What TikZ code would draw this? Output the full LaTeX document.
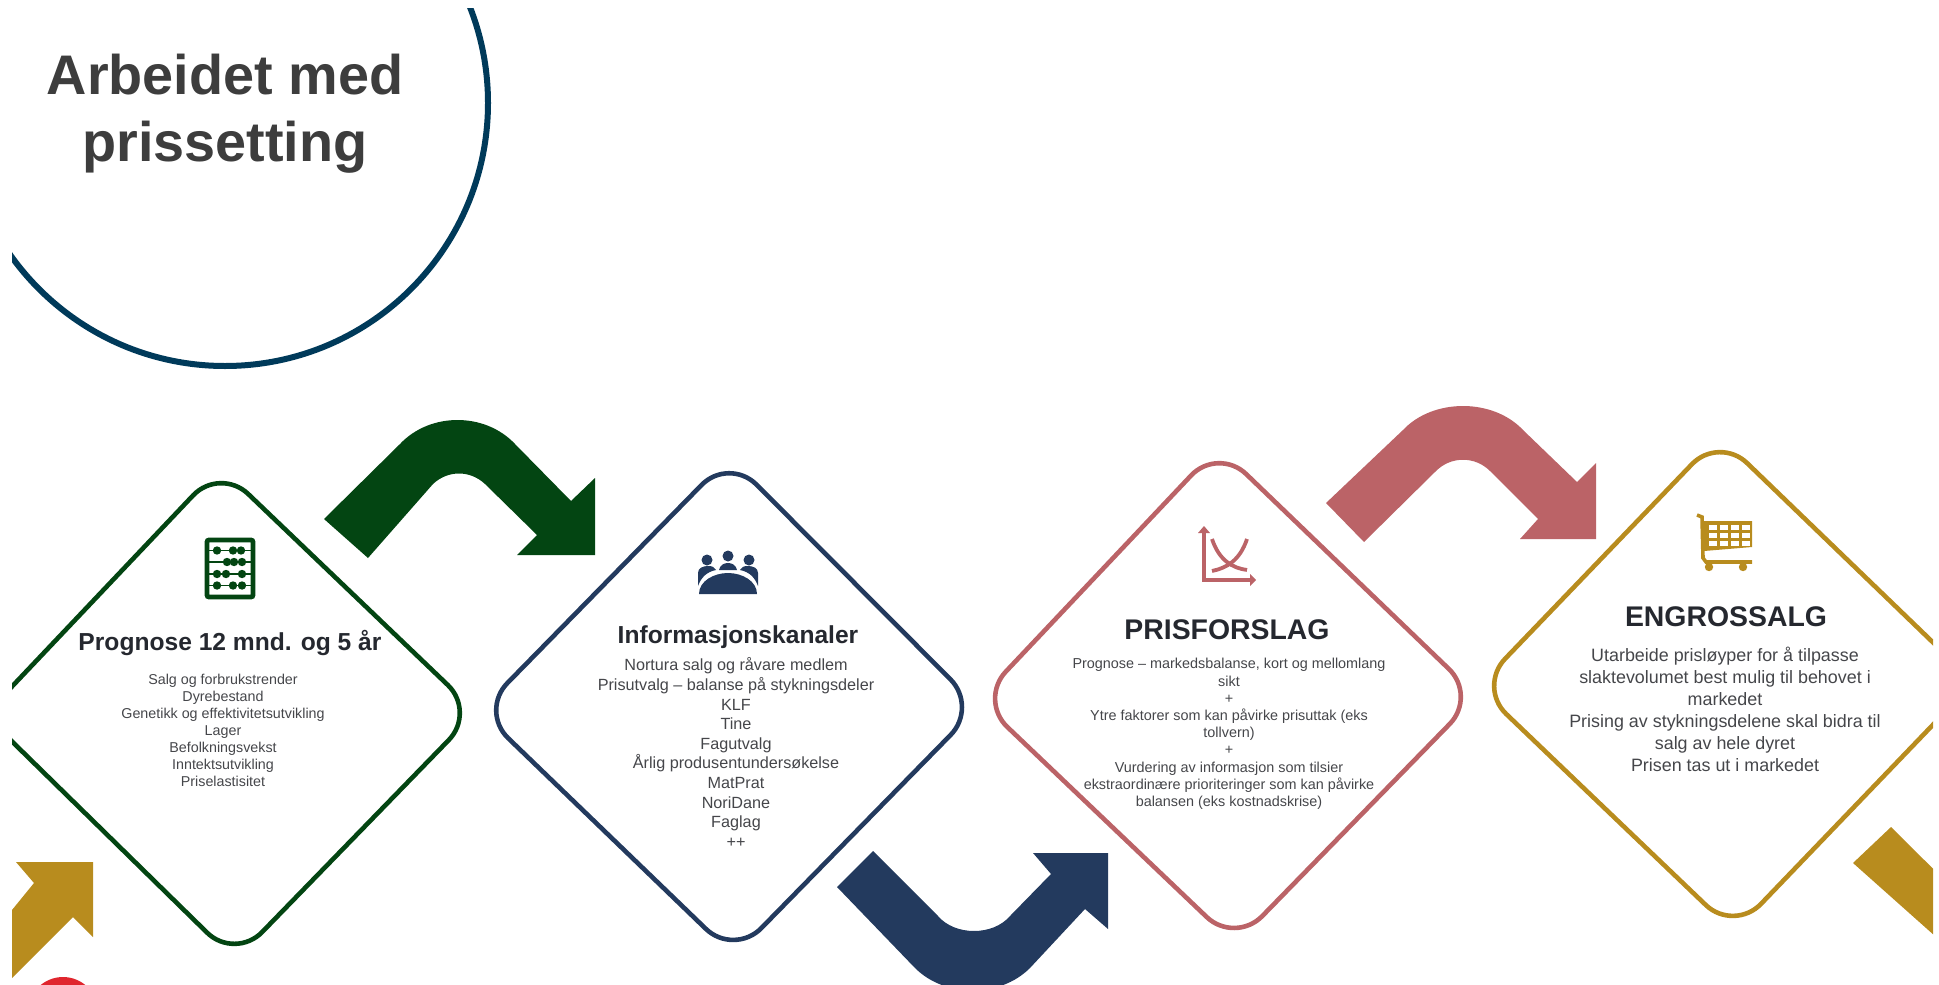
\documentclass[tikz,border=0pt]{standalone}
\usepackage{fontspec}
\setmainfont{Liberation Sans}
\definecolor{ringblue}{HTML}{003A5A}
\definecolor{pgreen}{HTML}{034512}
\definecolor{pnavy}{HTML}{233A5E}
\definecolor{pred}{HTML}{BB6367}
\definecolor{pgold}{HTML}{B88C1E}
\definecolor{plogo}{HTML}{E0262E}
\definecolor{headtxt}{HTML}{25282F}
\definecolor{bodytxt}{HTML}{45464A}
\tikzset{
  rhomb/.style={line width=2.3pt, rounded corners=19.5pt},
  headlabel/.style={text=headtxt, font=\bfseries\fontsize{#1}{#1}\selectfont, inner sep=0pt},
  bodylabel/.style={text=bodytxt, align=center, inner sep=0pt}
}
\begin{document}
\begin{tikzpicture}[x=0.5pt, y=-0.5pt]
\useasboundingbox (0,0) rectangle (1939,985);

\begin{scope}
\clip (12,8) rectangle (1933,985);

% corners of the four boxes
\coordinate (AT) at (220,467);
\coordinate (AR) at (476,712);
\coordinate (AB) at (235,960);
\coordinate (AL) at (-15,715);
\coordinate (BT) at (729,457);
\coordinate (BR) at (978,707);
\coordinate (BB) at (734,956);
\coordinate (BL) at (480,711);
\coordinate (CT) at (1218,447);
\coordinate (CR) at (1477,696);
\coordinate (CB) at (1235,944);
\coordinate (CL) at (979,700);
\coordinate (DT) at (1719,436);
\coordinate (DR) at (1974,682);
\coordinate (DB) at (1734,932);
\coordinate (DL) at (1478,687);

% title ring
\draw[line width=3pt, ringblue] (225,103) circle[radius=263];
\node[text=black!76, font=\bfseries\fontsize{27.9}{33.5}\selectfont, align=center, inner sep=0pt] (title) at (225,114) {Arbeidet med\\prissetting};

% logo at the bottom
\fill[plogo] (63,1012) circle[radius=35];

% bent arrows
\fill[pgreen] (324,519) -- (400,444) .. controls (430,412) and (485,412) .. (515,444) -- (571,501)
  -- (595,478) -- (595,555) -- (517,555) -- (537,535) -- (485,484)
  .. controls (470,470) and (448,470) .. (433,484) -- (368,558) -- cycle;
\fill[pnavy] (873,851) -- (938,916) .. controls (955,936) and (993,936) .. (1010,916) -- (1051,874)
  -- (1033,853) -- (1108,853) -- (1108,929) -- (1085,909) -- (1030,968)
  .. controls (1000,998) and (945,998) .. (915,968) -- (837,887) -- cycle;
\fill[pred] (1326,503) -- (1403,430) .. controls (1433,398) and (1493,398) .. (1523,430) -- (1577,482)
  -- (1596,463) -- (1596,539) -- (1520,539) -- (1538,519) -- (1490,471)
  .. controls (1475,456) and (1451,456) .. (1436,471) -- (1364,542) -- cycle;
\fill[pgold] (16,862) -- (93,862) -- (93,937) -- (73,917) -- (-20,1010) -- (-45,980) -- (34,883) -- cycle;
\fill[pgold] (1891,827) -- (1853,863) -- (1990,985) -- (2030,965) -- cycle;

% boxes
\draw[rhomb, pgreen] (AT) -- (AR) -- (AB) -- (AL) -- cycle;
\draw[rhomb, pnavy] (BT) -- (BR) -- (BB) -- (BL) -- cycle;
\draw[rhomb, pred] (CT) -- (CR) -- (CB) -- (CL) -- cycle;
\draw[rhomb, pgold] (DT) -- (DR) -- (DB) -- (DL) -- cycle;

% abacus
\draw[pgreen, line width=2.4pt, rounded corners=1pt] (207,540) rectangle (253,597);
\foreach \rody/\beadA/\beadB/\beadC in {550.5/217/233/241, 562/227/234/242, 574/217/226/242, 585.5/217/233/242} {
  \draw[pgreen, line width=0.9pt] (207,\rody) -- (253,\rody);
  \foreach \beadx in {\beadA,\beadB,\beadC}
    \fill[pgreen] (\beadx,\rody) circle[radius=4.2];
}

% meeting table
\foreach \headx/\heady in {707/560, 728/556, 749/560}
  \fill[pnavy] (\headx,\heady) circle[radius=5.5];
\fill[pnavy] (699,594) .. controls (699,581) and (714,573) .. (728,573) .. controls (742,573) and (757,581) .. (757,594) -- cycle;
\fill[pnavy] (719,570) .. controls (720,565) and (724,563) .. (728,563) .. controls (732,563) and (736,565) .. (737,570) -- cycle;
\fill[pnavy] (698,586) -- (698,573) .. controls (698,568) and (703,566) .. (708,566) .. controls (712,566) and (715,567) .. (716,570) .. controls (706,572) and (701,578) .. (698,586) -- cycle;
\fill[pnavy] (758,586) -- (758,573) .. controls (758,568) and (753,566) .. (748,566) .. controls (744,566) and (741,567) .. (740,570) .. controls (750,572) and (755,578) .. (758,586) -- cycle;

% chart
\draw[pred, line width=1.8pt] (1204,533) -- (1204,580) -- (1251,580);
\fill[pred] (1198,533) -- (1204,526) -- (1210,533) -- cycle;
\fill[pred] (1250,574) -- (1256,580) -- (1250,586) -- cycle;
\draw[pred, line width=1.9pt] (1212,539) .. controls (1219,560) and (1232,568) .. (1247,570);
\draw[pred, line width=1.9pt] (1247,539) .. controls (1240,560) and (1227,568) .. (1212,571);

% cart
\draw[pgold, line width=1.8pt] (1697,515) -- (1702,517) -- (1703,558) -- (1706,562) -- (1752,562);
\fill[pgold] (1704,521) -- (1752,521) -- (1752,547) -- (1704,551) -- cycle;
\foreach \cellx in {1709,1720,1731,1742}
  \foreach \celly in {525,533,541}
    \fill[white] (\cellx,\celly) rectangle ++(7.5,5);
\fill[pgold] (1709,567) circle[radius=4.2];
\fill[pgold] (1743,567) circle[radius=4.2];

% texts
\node[headlabel=12.3] (prognosehead) at (230,643) {Prognose 12 mnd. og 5 år};
\node[bodylabel, font=\fontsize{7.15}{8.5}\selectfont] (prognosebody) at (223,730) {Salg og forbrukstrender\\Dyrebestand\\Genetikk og effektivitetsutvikling\\Lager\\Befolkningsvekst\\Inntektsutvikling\\Priselastisitet};

\node[headlabel=12.3] (infohead) at (738,637) {Informasjonskanaler};
\node[bodylabel, font=\fontsize{8.1}{9.8}\selectfont] (infobody) at (736,752.5) {Nortura salg og råvare medlem\\Prisutvalg -- balanse på stykningsdeler\\KLF\\Tine\\Fagutvalg\\Årlig produsentundersøkelse\\MatPrat\\NoriDane\\Faglag\\++};

\node[headlabel=14.2] (forslaghead) at (1227,630) {PRISFORSLAG};
\node[bodylabel, font=\fontsize{7.2}{8.6}\selectfont] (forslagbody) at (1229,734) {Prognose -- markedsbalanse, kort og mellomlang\\sikt\\+\\Ytre faktorer som kan påvirke prisuttak (eks\\tollvern)\\+\\Vurdering av informasjon som tilsier\\ekstraordinære prioriteringer som kan påvirke\\balansen (eks kostnadskrise)};

\node[headlabel=14.2] (salghead) at (1726,617) {ENGROSSALG};
\node[bodylabel, font=\fontsize{8.95}{11}\selectfont] (salgbody) at (1725,709) {Utarbeide prisløyper for å tilpasse\\slaktevolumet best mulig til behovet i\\markedet\\Prising av stykningsdelene skal bidra til\\salg av hele dyret\\Prisen tas ut i markedet};
\end{scope}
\end{tikzpicture}
\end{document}
